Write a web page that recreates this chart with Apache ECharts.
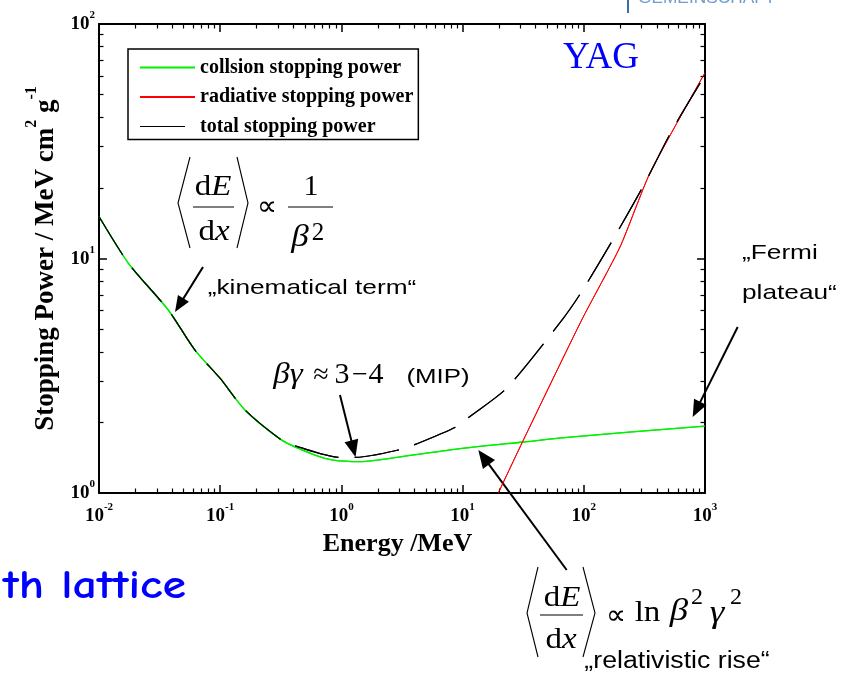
<!DOCTYPE html>
<html><head><meta charset="utf-8">
<script src="https://cdn.jsdelivr.net/npm/echarts@6/dist/echarts.min.js"></script>
<style>html,body{margin:0;padding:0;background:#fff}.layer{position:absolute;left:0;top:0;width:849px;height:680px}</style>
</head><body><div id="c" class="layer"></div><div id="frame" class="layer"></div>
<script>
// ---- data ----
const collisionEnergy = [0.01, 0.0175, 0.0373, 0.0619, 0.1, 0.16, 0.322, 0.605, 0.857, 1.42, 3.46, 8.93, 31.7, 76.9, 1000];
const collisionPower  = [15.1, 9.54, 6.03, 4.07, 3.08, 2.26, 1.68, 1.45, 1.38, 1.36, 1.44, 1.54, 1.65, 1.73, 1.93];
const radiativeEnergy = [19.7, 31.7, 96.1, 199, 351, 1000];
const radiativePower  = [1.0, 1.68, 5.47, 11.2, 23.1, 62.0];
const totalEnergy = [0.01, 0.0175, 0.0373, 0.0619, 0.1, 0.16, 0.322, 0.428, 0.973, 1.34, 3.04, 4.18, 8.93, 11.5, 23.1, 67.7, 96.1, 175, 310, 531, 1000];
const totalPower  = [15.1, 9.54, 6.03, 4.07, 3.08, 2.26, 1.68, 1.58, 1.42, 1.42, 1.53, 1.62, 1.92, 2.12, 2.80, 5.56, 7.22, 12.1, 20.4, 35.0, 60.6];
const seriesNames = ['collsion stopping power', 'radiative stopping power', 'total stopping power'];
const xMinorDecades = [-2, -1, 0, 1, 2];
const yMinorDecades = [0, 1];
const minorMultipliers = [2, 3, 4, 5, 6, 7, 8, 9];
const xRange = [0.01, 1000];
const yRange = [1, 100];

const SERIF = "'Liberation Serif','Times New Roman',serif";
const SANS = "'Liberation Sans',Arial,sans-serif";

const xMinorExp = [];
xMinorDecades.forEach(d => minorMultipliers.forEach(m => xMinorExp.push(d + Math.log10(m))));
const yMinorExp = [];
yMinorDecades.forEach(d => minorMultipliers.forEach(m => yMinorExp.push(d + Math.log10(m))));

const pairs = (xs, ys) => xs.map((x, i) => [x, ys[i]]);
const expLabel = v => '{b|10}{s|' + Math.round(Math.log10(v)) + '}';
const tickRich = {
  b: { fontFamily: SERIF, fontWeight: 'bold', fontSize: 19, color: '#000', lineHeight: 24, verticalAlign: 'bottom' },
  s: { fontFamily: SERIF, fontWeight: 'bold', fontSize: 11, color: '#000', lineHeight: 12, verticalAlign: 'top' }
};
function makeSeries() {
  return [
    { name: seriesNames[0], type: 'line', symbol: 'none', clip: true, smooth: 0.25,
      lineStyle: { color: '#00f000', width: 1.3 }, itemStyle: { color: '#00f000' },
      data: pairs(collisionEnergy, collisionPower) },
    { name: seriesNames[1], type: 'line', symbol: 'none', clip: true, smooth: 0.2,
      lineStyle: { color: '#ff0000', width: 1 }, itemStyle: { color: '#ff0000' },
      data: pairs(radiativeEnergy, radiativePower) },
    { name: seriesNames[2], type: 'line', symbol: 'none', clip: true, smooth: 0.25,
      lineStyle: { color: '#000', width: 1.2, type: [45, 16] }, itemStyle: { color: '#000' },
      data: pairs(totalEnergy, totalPower) }
  ];
}

// ---------- annotation helpers ----------
function txt(x, y, text, font, o) {
  o = o || {};
  return { type: 'text', x: x, y: y, scaleX: o.sx || 1, z: 100,
    style: { text: text, font: font, fill: o.color || '#000',
      textAlign: o.align || 'center', align: o.align || 'center',
      textVerticalAlign: o.va || 'middle', verticalAlign: o.va || 'middle', rich: o.rich } };
}
function pl(points, w) {
  return { type: 'polyline', z: 100, shape: { points: points }, style: { stroke: '#000', lineWidth: w || 1.1, fill: null } };
}
function ln(x1, y1, x2, y2, w) {
  return { type: 'line', z: 100, shape: { x1: x1, y1: y1, x2: x2, y2: y2 }, style: { stroke: '#000', lineWidth: w || 1.1 } };
}
function arrow(x1, y1, x2, y2, hl, hw) {
  const dx = x2 - x1, dy = y2 - y1, L = Math.hypot(dx, dy);
  const ux = dx / L, uy = dy / L, nx = -uy, ny = ux;
  const bx = x2 - ux * hl, by = y2 - uy * hl;
  return [
    ln(x1, y1, bx + ux * 2, by + uy * 2, 2),
    { type: 'polygon', z: 100, shape: { points: [[x2, y2], [bx + nx * hw / 2, by + ny * hw / 2], [bx - nx * hw / 2, by - ny * hw / 2]] }, style: { fill: '#000' } }
  ];
}
const mathRich = (fs) => ({
  r: { fontFamily: SERIF, fontSize: fs, color: '#000' },
  i: { fontFamily: SERIF, fontSize: fs, fontStyle: 'italic', color: '#000' }
});

const graphics = [].concat(
  [{ type: 'rect', z: 100, shape: { x: 627, y: 0, width: 2, height: 13 }, style: { fill: '#3b6ea5' } },
   txt(638, 7, 'GEMEINSCHAFT', '16px ' + SANS, { align: 'left', va: 'bottom', color: '#6f9ccc', sx: 1.08 })],
  [txt(601, 58, 'YAG', '37px ' + SERIF, { color: '#0000ff' })],
  // <dE/dx> ∝ 1/β²
  [pl([[190, 157], [178, 203], [190, 248]]), pl([[237, 157], [248, 203], [237, 248]]),
   txt(213, 187, '{r|d}{i|E}', '30px ' + SERIF, { rich: mathRich(30), sx: 1.1 }),
   ln(193, 207, 234, 207),
   txt(214, 232, '{r|d}{i|x}', '30px ' + SERIF, { rich: mathRich(30), sx: 1.1 }),
   txt(267, 208, '\u221D', '28px ' + SERIF),
   txt(311, 187, '1', '30px ' + SERIF),
   ln(288, 207, 333, 207),
   txt(300, 238, '\u03B2', 'italic 32px ' + SERIF, { sx: 1.1 }),
   txt(318, 233, '2', '25px ' + SERIF)],
  [txt(312, 288, '\u201Ekinematical term\u201C', '21px ' + SANS, { sx: 1.25 })],
  arrow(203, 267, 175, 312, 16, 13),
  // βγ ≈ 3 − 4 (MIP)
  [txt(288, 375, '\u03B2\u03B3', 'italic 30px ' + SERIF, { sx: 1.1 }),
   txt(321, 376, '\u2248', '28px ' + SERIF),
   txt(342, 375, '3', '30px ' + SERIF),
   txt(360, 376, '\u2212', '28px ' + SERIF),
   txt(376, 375, '4', '30px ' + SERIF),
   txt(438, 377, '(MIP)', '21px ' + SANS, { sx: 1.23 })],
  arrow(340, 395, 355.5, 457, 17, 14),
  [txt(742, 253, '\u201EFermi', '21px ' + SANS, { align: 'left', sx: 1.25 }),
   txt(742, 293, 'plateau\u201C', '21px ' + SANS, { align: 'left', sx: 1.25 })],
  arrow(737.7, 327, 692.7, 417, 17, 14),
  // <dE/dx> ∝ ln β²γ²
  [pl([[538, 567], [527, 613], [538, 657]]), pl([[583, 567], [595, 613], [583, 657]]),
   txt(562, 598, '{r|d}{i|E}', '30px ' + SERIF, { rich: mathRich(30), sx: 1.1 }),
   ln(540, 615, 583, 615),
   txt(561, 640, '{r|d}{i|x}', '30px ' + SERIF, { rich: mathRich(30), sx: 1.1 }),
   txt(616, 617, '\u221D', '28px ' + SERIF),
   txt(647.5, 613, 'ln', '30px ' + SERIF, { sx: 1.1 }),
   txt(679, 612, '\u03B2', 'italic 32px ' + SERIF, { sx: 1.15 }),
   txt(697, 598, '2', '24px ' + SERIF),
   txt(717, 614, '\u03B3', 'italic 32px ' + SERIF, { sx: 1.15 }),
   txt(736, 598, '2', '24px ' + SERIF),
   txt(677, 662, '\u201Erelativistic rise\u201C', '23px ' + SANS, { sx: 1.16 })],
  arrow(566.7, 570, 478.3, 450, 18, 15),
  [txt(3, 587, 'th lattice', 'bold 40px "Comic Sans MS","Comic Neue","DejaVu Sans",sans-serif', { align: 'left', color: '#0000ff', sx: 1.2 })]
);

const legendNames = seriesNames.map((n, i) => i === 2
  ? { name: n, lineStyle: { type: [45, 16], width: 1.2, color: '#000' } } : { name: n });

// ---------- lower layer: labels, names, legend, annotations ----------
const chart = echarts.init(document.getElementById('c'), null, { renderer: 'canvas' });
chart.setOption({
  animation: false, backgroundColor: '#fff',
  grid: { left: 99, right: 144, top: 24, bottom: 187, containLabel: false },
  legend: {
    left: 128, top: 49, orient: 'vertical', padding: [8.5, 5, 3, 11], itemGap: 9.5,
    itemWidth: 55, itemHeight: 14, borderColor: '#000', borderWidth: 1.5, borderRadius: 0,
    backgroundColor: '#fff', selectedMode: false, data: legendNames,
    itemStyle: { color: 'rgba(0,0,0,0)', borderColor: 'rgba(0,0,0,0)', borderWidth: 0, opacity: 0 },
    textStyle: { fontFamily: SERIF, fontWeight: 'bold', fontSize: 20, color: '#000' }
  },
  xAxis: [{
    type: 'log', logBase: 10, min: xRange[0], max: xRange[1], position: 'bottom',
    axisLine: { show: false, onZero: false }, axisTick: { show: false }, splitLine: { show: false },
    axisLabel: { show: true, margin: 9, formatter: expLabel, rich: tickRich, showMinLabel: true, showMaxLabel: true },
    name: 'Energy /MeV', nameLocation: 'middle', nameGap: 38,
    nameTextStyle: { fontFamily: SERIF, fontWeight: 'bold', fontSize: 26, color: '#000', padding: [0, 9, 0, 0] }
  }],
  yAxis: [{
    type: 'log', logBase: 10, min: yRange[0], max: yRange[1], position: 'left',
    axisLine: { show: false, onZero: false }, axisTick: { show: false }, splitLine: { show: false },
    axisLabel: { show: true, margin: 4, padding: [0, 0, 4, 0], formatter: expLabel, rich: tickRich, showMinLabel: true, showMaxLabel: true },
    name: '{a|Stopping Power / MeV cm}{s|2}{a| g}{s|-1}', nameLocation: 'middle', nameGap: 36, nameRotate: 90,
    nameTextStyle: {
      color: '#000',
      rich: {
        a: { fontFamily: SERIF, fontWeight: 'bold', fontSize: 27, color: '#000', lineHeight: 36, verticalAlign: 'bottom' },
        s: { fontFamily: SERIF, fontWeight: 'bold', fontSize: 16, color: '#000', lineHeight: 17, verticalAlign: 'top' }
      }
    }
  }],
  series: makeSeries(),
  graphic: graphics
});

// ---------- upper layer (transparent): frame, major/minor ticks and data ----------
function frameLog(pos, range) {
  return { type: 'log', logBase: 10, min: range[0], max: range[1], position: pos,
    axisLine: { show: true, onZero: false, lineStyle: { color: '#000', width: 2 } },
    axisTick: { show: true, inside: true, length: 8, lineStyle: { color: '#000', width: 1.5 } },
    axisLabel: { show: false }, splitLine: { show: false } };
}
function frameMinor(pos, min, max, values) {
  return { type: 'value', min: min, max: max, position: pos,
    axisLine: { show: false, onZero: false },
    axisTick: { show: true, inside: true, length: 4.5, lineStyle: { color: '#000', width: 1.2 }, customValues: values },
    axisLabel: { show: false }, splitLine: { show: false } };
}
const frame = echarts.init(document.getElementById('frame'), null, { renderer: 'canvas' });
frame.setOption({
  animation: false, backgroundColor: 'transparent',
  grid: { left: 99, right: 144, top: 24, bottom: 187, containLabel: false },
  xAxis: [frameLog('bottom', xRange), frameMinor('bottom', -2, 3, xMinorExp), frameLog('top', xRange), frameMinor('top', -2, 3, xMinorExp)],
  yAxis: [frameLog('left', yRange), frameMinor('left', 0, 2, yMinorExp), frameLog('right', yRange), frameMinor('right', 0, 2, yMinorExp)],
  series: makeSeries()
});
</script></body></html>
